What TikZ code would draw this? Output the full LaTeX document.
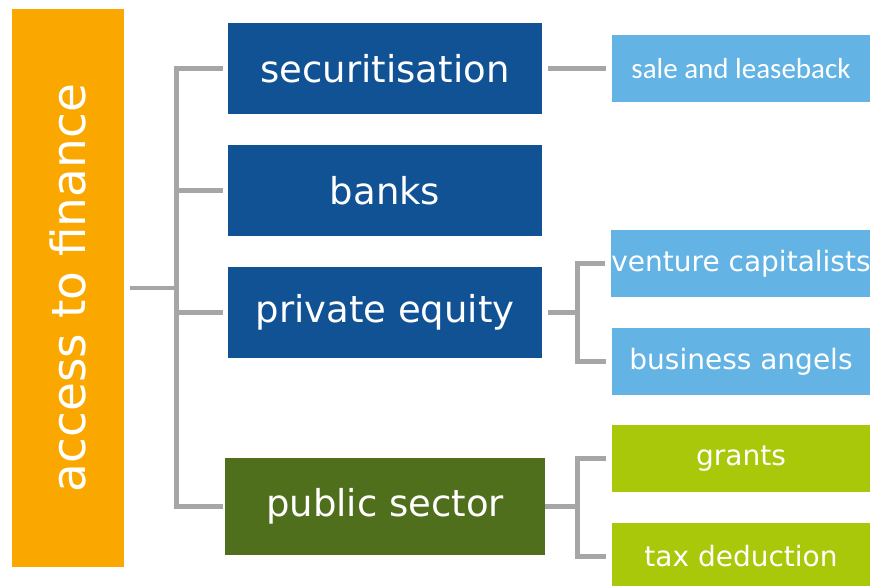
\documentclass[tikz,border=0pt]{standalone}
\usepackage{fontspec}
\setmainfont{DejaVu Sans}
\newfontfamily\calfont{Carlito}
\definecolor{accorange}{HTML}{FAA800}
\definecolor{darkblue}{HTML}{115294}
\definecolor{lightblue}{HTML}{63B3E4}
\definecolor{darkgreen}{HTML}{4F6F1C}
\definecolor{lightgreen}{HTML}{A9C80A}
\definecolor{conngray}{HTML}{A6A6A6}
\tikzset{
  box/.style={inner sep=0pt, outer sep=0pt, text=white, align=center},
  bigbox/.style={box, minimum width=314pt, minimum height=91pt, font=\fontsize{37}{44}\selectfont},
  smallbox/.style={box, minimum width=258pt, minimum height=67pt, font=\fontsize{28}{34}\selectfont},
  conn/.style={draw=conngray, line width=4.5pt}
}
\begin{document}
\begin{tikzpicture}[x=1pt,y=-1pt]
\useasboundingbox (0,0) rectangle (870,586);
% root
\node[box, fill=accorange, minimum width=112pt, minimum height=558pt] (acc) at (68,288) {};
\node[text=white, rotate=90, font=\fontsize{47}{56}\selectfont, inner sep=0pt] (acct) at (acc.center) {access to finance};
% level 1
\node[bigbox, fill=darkblue] (sec) at (385,68.5) {securitisation};
\node[bigbox, fill=darkblue] (bank) at (385,190.5) {banks};
\node[bigbox, fill=darkblue] (pe) at (385,312.5) {private equity};
\node[bigbox, fill=darkgreen, minimum width=320pt, minimum height=97pt] (pub) at (385,506.5) {public sector};
% level 2
\node[smallbox, fill=lightblue, font=\calfont\fontsize{29}{34}\selectfont] (sale) at (741,68.5) {sale and leaseback};
\node[smallbox, fill=lightblue] (vc) at (741,263.5) {venture capitalists};
\node[smallbox, fill=lightblue] (ba) at (741,361.5) {business angels};
\node[smallbox, fill=lightgreen] (gr) at (741,458.5) {grants};
\node[smallbox, fill=lightgreen] (tax) at (741,556.5) {tax deduction};
% connectors
\coordinate (j1) at (176.5,288);
\draw[conn] ([xshift=6pt]acc.east) -- (j1);
\draw[conn] ([xshift=-5pt]sec.west) -| (j1 |- pub.west) -- ([xshift=-2pt]pub.west);
\draw[conn] (j1 |- bank.west) -- ([xshift=-5pt]bank.west);
\draw[conn] (j1 |- pe.west) -- ([xshift=-5pt]pe.west);
\draw[conn] ([xshift=6pt]sec.east) -- ([xshift=-6pt]sale.west);
\coordinate (j2) at (577.5,312.5);
\draw[conn] ([xshift=6pt]pe.east) -- (j2);
\draw[conn] ([xshift=-6pt]vc.west) -| (j2 |- ba.west) -- ([xshift=-6pt]ba.west);
\coordinate (j3) at (577.5,506.5);
\draw[conn] (pub.east) -- (j3);
\draw[conn] ([xshift=-6pt]gr.west) -| (j3 |- tax.west) -- ([xshift=-6pt]tax.west);
\end{tikzpicture}
\end{document}
